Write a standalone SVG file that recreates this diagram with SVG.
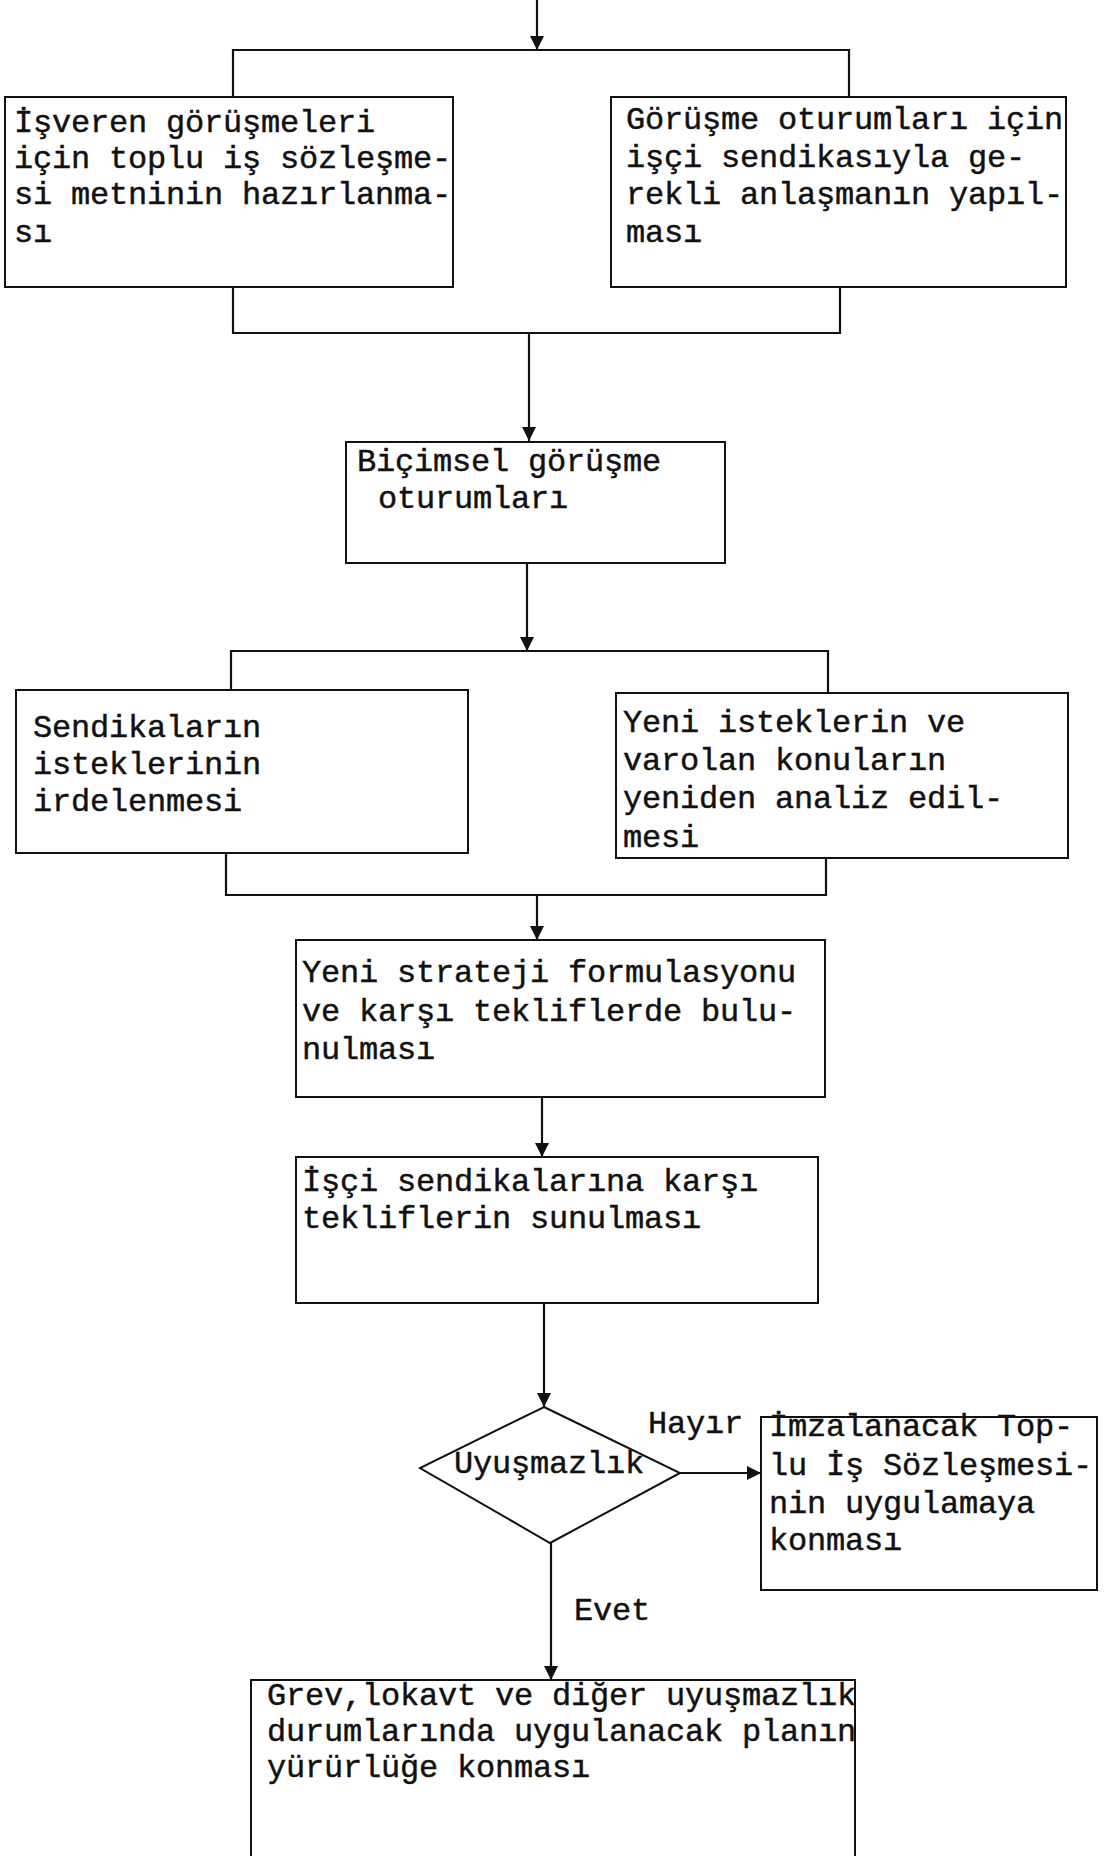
<svg xmlns="http://www.w3.org/2000/svg" width="1108" height="1856" viewBox="0 0 1108 1856">
<style>
.box{fill:none;stroke:#111;stroke-width:2}
.ln{fill:none;stroke:#111;stroke-width:2.2}
.t{font-family:"Liberation Mono","Courier New",monospace;font-size:32px;letter-spacing:-0.2px;fill:#111;stroke:#111;stroke-width:0.45}
.lbl{font-family:"Liberation Mono","Courier New",monospace;font-size:32px;letter-spacing:-0.2px;fill:#111;stroke:#111;stroke-width:0.45}
</style>
<defs>
<marker id="ah" viewBox="0 0 14 14" markerWidth="14" markerHeight="14" refX="14" refY="7" orient="auto" markerUnits="userSpaceOnUse">
<path d="M0,0 L14,7 L0,14 z" fill="#111"/>
</marker>
</defs>
<rect width="1108" height="1856" fill="#fff"/>
<g id="connectors">
<path class="ln" d="M537,0 V50" marker-end="url(#ah)"/>
<path class="ln" d="M233,97 V50 H849 V97"/>
<path class="ln" d="M233,287 V333 H840 V287"/>
<path class="ln" d="M529,333 V441" marker-end="url(#ah)"/>
<path class="ln" d="M527,563 V651" marker-end="url(#ah)"/>
<path class="ln" d="M231,690 V651 H828 V693"/>
<path class="ln" d="M226,853 V895 H826 V858"/>
<path class="ln" d="M537,895 V940" marker-end="url(#ah)"/>
<path class="ln" d="M542,1097 V1157" marker-end="url(#ah)"/>
<path class="ln" d="M544,1303 V1407" marker-end="url(#ah)"/>
<path class="ln" d="M680,1473 H761" marker-end="url(#ah)"/>
<path class="ln" d="M551,1543 V1680" marker-end="url(#ah)"/>
<text class="lbl" x="648" y="1433">Hayır</text>
<text class="lbl" x="574" y="1620">Evet</text>
</g>
<g id="n1">
<rect class="box" x="5" y="97" width="448" height="190"/>
<text class="t" x="14" y="132">İşveren görüşmeleri</text>
<text class="t" x="14" y="168">için toplu iş sözleşme-</text>
<text class="t" x="14" y="204">si metninin hazırlanma-</text>
<text class="t" x="14" y="242">sı</text>
</g>
<g id="n2">
<rect class="box" x="611" y="97" width="455" height="190"/>
<text class="t" x="626" y="129">Görüşme oturumları için</text>
<text class="t" x="626" y="167">işçi sendikasıyla ge-</text>
<text class="t" x="626" y="204">rekli anlaşmanın yapıl-</text>
<text class="t" x="626" y="242">ması</text>
</g>
<g id="n3">
<rect class="box" x="346" y="442" width="379" height="121"/>
<text class="t" x="357" y="471">Biçimsel görüşme</text>
<text class="t" x="378" y="508">oturumları</text>
</g>
<g id="n4">
<rect class="box" x="16" y="690" width="452" height="163"/>
<text class="t" x="33" y="737">Sendikaların</text>
<text class="t" x="33" y="774">isteklerinin</text>
<text class="t" x="33" y="811">irdelenmesi</text>
</g>
<g id="n5">
<rect class="box" x="616" y="693" width="452" height="165"/>
<text class="t" x="623" y="732">Yeni isteklerin ve</text>
<text class="t" x="623" y="770">varolan konuların</text>
<text class="t" x="623" y="808">yeniden analiz edil-</text>
<text class="t" x="623" y="847">mesi</text>
</g>
<g id="n6">
<rect class="box" x="296" y="940" width="529" height="157"/>
<text class="t" x="302" y="982">Yeni strateji formulasyonu</text>
<text class="t" x="302" y="1021">ve karşı tekliflerde bulu-</text>
<text class="t" x="302" y="1059">nulması</text>
</g>
<g id="n7">
<rect class="box" x="296" y="1157" width="522" height="146"/>
<text class="t" x="302" y="1191">İşçi sendikalarına karşı</text>
<text class="t" x="302" y="1228">tekliflerin sunulması</text>
</g>
<g id="n8">
<polygon class="box" points="544,1407 680,1473 550,1543 420,1468"/>
<text class="t" x="454" y="1473">Uyuşmazlık</text>
</g>
<g id="n9">
<rect class="box" x="761" y="1417" width="336" height="173"/>
<text class="t" x="769" y="1436">İmzalanacak Top-</text>
<text class="t" x="769" y="1475">lu İş Sözleşmesi-</text>
<text class="t" x="769" y="1513">nin uygulamaya</text>
<text class="t" x="769" y="1550">konması</text>
</g>
<g id="n10">
<path class="box" d="M251,1860 V1680 H855 V1860"/>
<text class="t" x="267" y="1705">Grev,lokavt ve diğer uyuşmazlık</text>
<text class="t" x="267" y="1741">durumlarında uygulanacak planın</text>
<text class="t" x="267" y="1777">yürürlüğe konması</text>
</g>
</svg>
